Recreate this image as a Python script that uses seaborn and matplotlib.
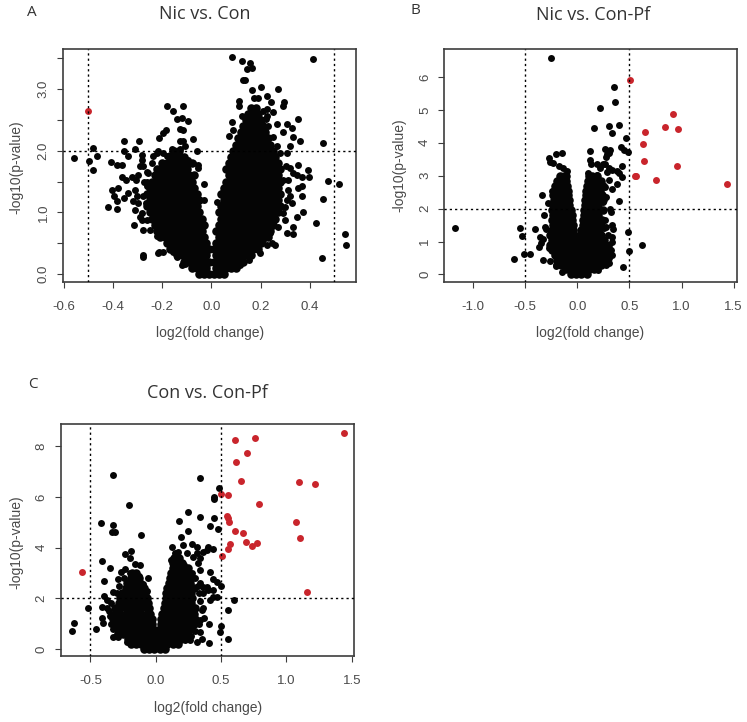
import matplotlib
matplotlib.use("Agg")
import matplotlib.pyplot as plt
import seaborn as sns
import pandas as pd

# ---------- Panel A values ----------
a_levels = [0.0,0.1,0.2,0.3,0.4,0.5,0.6,0.7,0.8,0.9,1.0,1.1,1.2,1.3,1.4,1.5,1.6,1.7,1.8,1.9,
            2.0,2.1,2.2,2.3,2.4,2.5,2.6,2.7]
a_rows_left = [
 [-.05,-.03,-.01],
 [-.08,-.06,-.04,-.02],
 [-.11,-.09,-.07,-.05,-.03,-.01],
 [-.14,-.12,-.10,-.08,-.06,-.04,-.02],
 [-.17,-.15,-.13,-.11,-.09,-.07,-.05,-.03,-.01],
 [-.18,-.16,-.14,-.12,-.10,-.08,-.06,-.04,-.02],
 [-.21,-.19,-.17,-.15,-.13,-.11,-.09,-.07,-.05,-.03],
 [-.22,-.20,-.18,-.16,-.14,-.12,-.10,-.08,-.06,-.04],
 [-.23,-.21,-.19,-.17,-.15,-.13,-.11,-.09,-.07,-.05,-.03],
 [-.24,-.22,-.20,-.18,-.16,-.14,-.12,-.10,-.08,-.06,-.04],
 [-.25,-.23,-.21,-.19,-.17,-.15,-.13,-.11,-.09,-.07,-.05],
 [-.26,-.24,-.22,-.20,-.18,-.16,-.14,-.12,-.10,-.08,-.06],
 [-.25,-.23,-.21,-.19,-.17,-.15,-.13,-.11,-.09,-.07,-.05],
 [-.26,-.24,-.22,-.20,-.18,-.16,-.14,-.12,-.10,-.08,-.06],
 [-.25,-.23,-.21,-.19,-.17,-.15,-.13,-.11,-.09,-.07],
 [-.24,-.22,-.20,-.18,-.16,-.14,-.12,-.10,-.08],
 [-.23,-.21,-.19,-.17,-.15,-.13,-.11,-.09,-.07],
 [-.22,-.20,-.18,-.16,-.14,-.12,-.10],
 [-.20,-.18,-.16,-.14,-.12,-.10,-.08],
 [-.17,-.15,-.13,-.11],
 [-.15,-.13],
 [], [], [], [], [], [], [],
]
a_rows_right = [
 [.01,.03,.05],
 [.02,.04,.06,.08,.10],
 [.01,.03,.05,.07,.09,.11,.13],
 [.02,.04,.06,.08,.10,.12,.14,.16],
 [.01,.03,.05,.07,.09,.11,.13,.15,.17,.19],
 [.02,.04,.06,.08,.10,.12,.14,.16,.18,.20],
 [.03,.05,.07,.09,.11,.13,.15,.17,.19,.21,.23],
 [.02,.04,.06,.08,.10,.12,.14,.16,.18,.20,.22,.24],
 [.03,.05,.07,.09,.11,.13,.15,.17,.19,.21,.23,.25],
 [.04,.06,.08,.10,.12,.14,.16,.18,.20,.22,.24,.26],
 [.03,.05,.07,.09,.11,.13,.15,.17,.19,.21,.23,.25,.27],
 [.04,.06,.08,.10,.12,.14,.16,.18,.20,.22,.24,.26,.28],
 [.05,.07,.09,.11,.13,.15,.17,.19,.21,.23,.25,.27],
 [.04,.06,.08,.10,.12,.14,.16,.18,.20,.22,.24,.26,.28],
 [.05,.07,.09,.11,.13,.15,.17,.19,.21,.23,.25,.27],
 [.06,.08,.10,.12,.14,.16,.18,.20,.22,.24,.26,.28],
 [.07,.09,.11,.13,.15,.17,.19,.21,.23,.25,.27],
 [.06,.08,.10,.12,.14,.16,.18,.20,.22,.24,.26,.28],
 [.07,.09,.11,.13,.15,.17,.19,.21,.23,.25,.27],
 [.08,.10,.12,.14,.16,.18,.20,.22,.24,.26],
 [.09,.11,.13,.15,.17,.19,.21,.23,.25],
 [.10,.12,.14,.16,.18,.20,.22,.24],
 [.11,.13,.15,.17,.19,.21,.23],
 [.12,.14,.16,.18,.20,.22],
 [.13,.15,.17,.19,.21],
 [.14,.16,.18,.20],
 [.15,.17,.19],
 [.16,.18],
]
a_sparse_x = [.083,.126,.157,.167,.144,.137,.13,.412,.167,.202,.271,.175,.19,.225,.295,.293,.243,.111,.111,.123,
 .252,.225,.354,.221,.085,.266,.306,.327,.293,.333,.36,.453,.07,.09,.32,.306,.354,.32,.333,.394,.398,.367,.347,
 .476,.52,.455,.367,.354,.367,.371,.425,.543,.547,.451,.347,.333,.306,.333,.3,.327,.32,.293,.31,
 -.558,-.496,-.482,-.463,-.482,-.354,-.295,-.31,-.354,-.337,-.408,-.385,-.362,-.364,-.347,-.324,-.306,-.378,-.405,
 -.396,-.419,-.385,-.382,-.354,-.337,-.31,-.313,-.276,-.276,-.276,-.317,-.31,-.29,-.29,-.297,-.283,-.283,
 -.182,-.154,-.114,-.141,-.12,-.096,-.186,-.195,-.214,-.127,-.114,-.127,-.114,-.073,-.107,-.161,-.06,-.168,-.222,
 -.195,-.127,-.056,-.053,-.028,-.028,-.243,-.263,-.274,-.127,-.093,-.076,.022,.045,
 -.263,-.276,-.267,-.28,-.263,-.25,-.222,-.211,-.195,-.215,-.154,-.141,-.121,-.107,-.256,-.236,-.215,-.182,-.276,-.263,-.304,-.297,-.283,
 .225,.245,.259,.238,.272,.252,.293,.3,.309,.313,.304,.279,.266,.252,.232,.225,.211,.184,.154,.117,.083,.154,.198,.211,.266]
a_sparse_y = [3.52,3.45,3.42,3.34,3.33,3.15,3.14,3.49,2.98,3.03,3.0,2.86,2.86,2.89,2.79,2.73,2.79,2.8,2.72,2.57,
 2.62,2.67,2.51,2.51,2.46,2.44,2.44,2.37,2.31,2.22,2.15,2.13,2.24,2.34,2.07,1.96,1.77,1.72,1.64,1.68,1.58,1.58,1.61,
 1.51,1.46,1.22,1.42,1.39,1.26,1.01,.82,.645,.466,.266,.93,.77,.66,.645,.88,1.15,1.26,1.53,1.53,
 1.875,1.84,2.04,1.92,1.68,2.15,2.15,2.03,1.99,1.92,1.81,1.77,1.77,1.58,1.53,1.58,1.53,1.4,1.355,
 1.27,1.08,1.06,1.19,1.23,1.31,1.37,.8,.715,.31,.28,1.18,1.04,.93,1.75,1.61,1.85,1.93,
 2.73,2.64,2.73,2.51,2.53,2.48,2.33,2.29,2.21,2.35,2.34,2.15,2.15,2.19,2.07,2.02,1.99,1.93,1.96,
 1.96,2.02,1.77,1.72,1.46,1.2,1.8,1.66,1.5,1.91,1.85,1.8,1.16,1.31,
 1.42,1.26,1.15,.99,.88,.72,.61,.36,.36,.34,.36,.28,.15,.17,1.64,1.91,1.99,1.91,1.75,1.5,1.26,1.15,.88,
 .47,.5,.47,.66,.77,.82,.99,1.09,1.2,1.37,1.75,1.96,2.07,2.23,2.4,2.56,2.64,2.61,.23,.15,.09,.47,.34,.55,1.04]
a_red_x = [-.5]
a_red_y = [2.64]

# ---------- Panel B values ----------
b_levels = [0.0,0.15,0.3,0.45,0.6,0.75,0.9,1.05,1.2,1.35,1.5,1.65,1.8,1.95,2.1,2.25,2.4,2.55,2.7,2.85,3.0]
b_rows_left = [
 [-.06,-.01],
 [-.11,-.06,-.01],
 [-.16,-.11,-.06,-.01],
 [-.19,-.14,-.09,-.04,-.01],
 [-.21,-.16,-.11,-.06,-.01],
 [-.24,-.19,-.14,-.09,-.04],
 [-.26,-.21,-.16,-.11,-.06,-.01],
 [-.24,-.19,-.14,-.09,-.04],
 [-.26,-.21,-.16,-.11,-.06,-.03],
 [-.24,-.19,-.14,-.09,-.04],
 [-.23,-.18,-.13,-.08,-.04],
 [-.24,-.19,-.14,-.09,-.05],
 [-.23,-.18,-.13,-.08,-.05],
 [-.24,-.19,-.14,-.09,-.06],
 [-.23,-.18,-.13,-.08],
 [-.22,-.17,-.12,-.08],
 [-.23,-.18,-.13,-.09],
 [-.22,-.17,-.12,-.09],
 [-.21,-.17,-.13,-.10],
 [-.19,-.15,-.11],
 [-.17,-.13,-.11],
]
b_rows_right = [
 [.04,.09],
 [.01,.06,.11,.16],
 [.03,.08,.13,.18,.23],
 [.01,.06,.11,.16,.21,.26],
 [.03,.08,.13,.18,.23,.28],
 [.02,.06,.11,.16,.21,.26,.30],
 [.03,.08,.13,.18,.23,.28],
 [.03,.06,.11,.16,.21,.26],
 [.03,.08,.13,.18,.23],
 [.04,.06,.11,.16,.21],
 [.05,.08,.13,.18,.23],
 [.05,.09,.14,.19,.24],
 [.06,.10,.15,.20],
 [.06,.11,.16,.21,.25],
 [.07,.10,.15,.20],
 [.07,.11,.16,.21,.25],
 [.08,.10,.15,.20,.24],
 [.08,.12,.17,.22],
 [.09,.11,.16,.21,.25],
 [.10,.13,.18,.23],
 [.11,.14,.19],
]
b_sparse_x = [-.25,.35,.36,.22,.157,.307,.4,.33,.467,.42,.45,.49,.125,.262,.31,.288,.307,.28,-.144,-.208,-.275,-.262,-.23,
 .12,.128,.186,.25,.27,.425,.218,.3,.33,.378,.4,.425,.288,-.173,-.134,-.1,.106,.3,.186,.38,.336,.265,.4,-.336,-.285,-.23,
 -.317,.28,.31,.323,-1.17,-.55,-.528,-.41,-.314,-.304,-.358,-.326,-.352,-.368,-.605,-.515,-.454,-.326,-.262,-.208,
 .486,.5,.617,.435,.336,.336,.34,.28,.256,-.27,-.246,
 .3,.32,.33,.33,.3,.29,.27,-.2,-.15,.2,.28,.25,-.24,.31,.3]
b_sparse_y = [6.57,5.69,5.25,5.05,4.44,4.5,4.53,4.31,4.16,3.86,3.78,3.73,3.76,3.8,3.78,3.66,3.7,3.58,3.69,3.66,3.53,3.42,3.39,
 3.48,3.37,3.35,3.37,3.37,3.29,3.22,3.22,3.17,3.15,3.07,2.95,3.1,3.3,3.22,3.15,3.07,2.87,3.02,2.75,2.6,2.66,2.24,2.4,2.16,2.1,
 1.8,2.36,1.98,1.9,1.42,1.42,1.18,1.39,1.45,1.37,1.14,1.09,.94,.82,.476,.61,.61,.44,.395,.3,
 1.29,.71,.88,.23,.59,1.5,1.37,1.45,1.4,.79,1.04,
 .5,.75,1.0,1.15,.35,1.2,1.65,.25,.08,.12,.3,2.2,2.55,.62,.9]
b_red_x = [.51,.92,.84,.97,.65,.627,.64,.96,.566,.55,.755,1.44]
b_red_y = [5.9,4.87,4.47,4.41,4.34,3.96,3.45,3.28,3.0,2.98,2.88,2.75]

# ---------- Panel C values ----------
c_levels = [0.0,0.2,0.4,0.6,0.8,1.0,1.2,1.4,1.6,1.8,2.0,2.2,2.4,2.6,2.8,3.0,3.2,3.4,3.6]
c_rows_left = [
 [-.09,-.05,-.01],
 [-.19,-.15,-.11,-.07,-.03],
 [-.21,-.17,-.13,-.09,-.05,-.01],
 [-.25,-.21,-.17,-.13,-.09,-.05,-.02],
 [-.29,-.25,-.21,-.17,-.13,-.09,-.05,-.02],
 [-.31,-.27,-.23,-.19,-.15,-.11,-.07,-.03],
 [-.33,-.29,-.25,-.21,-.17,-.13,-.09,-.05,-.03],
 [-.31,-.27,-.23,-.19,-.15,-.11,-.07,-.04],
 [-.31,-.27,-.23,-.19,-.15,-.11,-.07,-.05],
 [-.28,-.24,-.20,-.16,-.12,-.08,-.06],
 [-.27,-.23,-.19,-.15,-.11,-.07],
 [-.26,-.22,-.18,-.14,-.10,-.08],
 [-.23,-.19,-.15,-.11,-.09],
 [-.22,-.18,-.14,-.12],
 [-.19,-.15,-.13],
 [-.18,-.15],
 [], [], [],
]
c_rows_right = [
 [.03,.07],
 [.01,.05,.09,.13,.17],
 [.03,.07,.11,.15,.19],
 [.03,.05,.09,.13,.17,.21,.24],
 [.03,.07,.11,.15,.19,.23,.27],
 [.04,.05,.09,.13,.17,.21,.25,.29],
 [.04,.07,.11,.15,.19,.23,.27,.30],
 [.05,.09,.13,.17,.21,.25,.29],
 [.06,.10,.14,.18,.22,.26,.30],
 [.07,.11,.15,.19,.23,.27],
 [.08,.12,.16,.20,.24,.28],
 [.08,.12,.16,.20,.24,.27],
 [.09,.13,.17,.21,.25,.29],
 [.10,.14,.18,.22,.26],
 [.11,.15,.19,.23,.27],
 [.12,.16,.20,.24],
 [.13,.17,.21,.25],
 [.13,.16,.20],
 [.14,.18],
]
c_sparse_x = [-.327,.339,.485,-.207,.449,.449,.245,.339,.449,.179,-.418,-.324,-.337,-.311,-.112,.416,.477,.245,.194,.125,.212,
 .28,.314,.403,.441,.39,-.191,-.235,-.2,-.41,-.35,-.158,-.12,-.235,-.268,-.056,-.395,-.286,-.395,-.515,-.413,-.622,-.643,-.459,
 .416,.441,.467,.497,.602,.554,.503,.492,.554,.408,.357,.408,.34,.467,.416,.365,.403,.339,.339,.365,.441,.352,.37,.339,.314,.263,.224,
 .441,.39,.339,.365,.314,.288,.327,.237,.173,.148,-.324,-.286,-.4,-.413,-.375,-.375,-.324,-.222,-.171,
 -.35,-.34,-.36,-.34,-.3,-.28,-.24,-.2,-.17,-.13,-.1,-.07,-.3,-.33,
 .3,.32,.33,.34,.36,.33,.3,.27,.2,.22,.25,.28,.16,.12]
c_sparse_y = [6.87,6.74,6.34,5.68,6.01,5.93,5.42,5.2,5.16,5.07,4.97,4.88,4.63,4.63,4.5,4.86,4.75,4.67,4.41,4.04,4.1,
 4.14,4.04,4.04,3.95,3.9,3.87,3.74,3.6,3.49,3.21,3.36,3.32,3.14,3.04,2.79,2.68,2.75,2.1,1.63,1.64,1.01,.71,.8,
 3.05,2.75,2.66,2.5,1.93,1.54,.92,.66,.39,.22,.39,.97,.68,2.07,1.93,2.2,2.33,3.12,2.59,2.46,2.33,1.54,1.21,1.14,.29,.36,.36,
 2.07,2.46,3.58,3.84,3.78,3.64,3.38,3.78,3.84,3.78,.49,.49,1.01,1.21,1.6,1.93,2.26,.29,.22,
 1.3,1.0,1.5,1.8,2.2,2.5,2.8,3.0,2.95,2.9,2.55,2.3,.6,.8,
 2.8,2.5,2.2,1.9,1.6,1.0,.7,.5,3.4,3.3,3.1,3.0,3.6,3.5]
c_red_x = [1.441,.605,.758,.70,.615,.656,1.1,1.22,.503,.554,.793,.543,.551,.561,1.07,.605,.671,1.107,.691,.776,.74,.569,.554,.51,1.158,-.564]
c_red_y = [8.54,8.24,8.32,7.74,7.38,6.64,6.59,6.51,6.12,6.07,5.72,5.25,5.16,5.0,5.01,4.66,4.58,4.39,4.22,4.18,4.05,4.14,3.96,3.66,2.25,3.04]

titles = ["Nic vs. Con", "Nic vs. Con-Pf", "Con vs. Con-Pf"]
letters = ["A", "B", "C"]
a_xticks = [-0.6,-0.4,-0.2,0.0,0.2,0.4]
a_yticks = [0.0,0.5,1.0,1.5,2.0,2.5,3.0,3.5]
a_ylabels = ["0.0","","1.0","","2.0","","3.0",""]
b_xticks = [-1.0,-0.5,0.0,0.5,1.0,1.5]
b_yticks = [0,1,2,3,4,5,6]
c_xticks = [-0.5,0.0,0.5,1.0,1.5]
c_yticks = [0,2,4,6,8]

W, H = 747, 722
sns.set_theme(style="white")
plt.rcParams['font.family'] = ['Liberation Sans', 'DejaVu Sans']
fig = plt.figure(figsize=(W/100, H/100), dpi=100, facecolor="white")

GREY = "#3d3d3d"
RED = "#c9252c"
MS = 25
MS_DENSE = 38

def table(levels, rows_l, rows_r):
    xs, ys = [], []
    for lev, l, r in zip(levels, rows_l, rows_r):
        for v in list(l) + list(r):
            xs.append(v); ys.append(lev)
    return pd.DataFrame({"x": xs, "y": ys})

def panel(box, xlim, ylim, dense, sx, sy, rx, ry, xticks, yticks, ylabels):
    l, t, r, b = box
    ax = fig.add_axes([l/W, 1-b/H, (r-l)/W, (b-t)/H])
    sns.scatterplot(data=dense, x="x", y="y", ax=ax, color="#050505", s=MS_DENSE, linewidth=0, legend=False, zorder=2)
    sns.scatterplot(x=sx, y=sy, ax=ax, color="#050505", s=MS, linewidth=0, legend=False, zorder=2)
    sns.scatterplot(x=rx, y=ry, ax=ax, color=RED, s=MS, linewidth=0, legend=False, zorder=3)
    for v in (-0.5, 0.5):
        ax.axvline(v, color="black", lw=1.0, ls=(0, (1.6, 2.2)), zorder=4)
    ax.axhline(2, color="black", lw=1.0, ls=(0, (1.6, 2.2)), zorder=4)
    ax.set_xlim(xlim); ax.set_ylim(ylim)
    ax.set_xlabel(""); ax.set_ylabel("")
    ax.set_xticks(xticks); ax.set_xticklabels(["%.1f" % v for v in xticks])
    ax.set_yticks(yticks); ax.set_yticklabels(ylabels, rotation=90, va="center")
    ax.tick_params(axis="both", length=4.5, width=0.8, color=GREY, labelcolor="#4a4a4a", labelsize=9.5, bottom=True, left=True)
    ax.tick_params(axis="x", pad=9)
    ax.tick_params(axis="y", pad=5)
    for s in ax.spines.values():
        s.set_color(GREY); s.set_linewidth(1.2); s.set_visible(True)
    return ax

def px_text(x, y, s, **kw):
    fig.text(x/W, 1-y/H, s, ha="center", va="center", **kw)

panel((63,49,356,282), (-0.603,0.588), (-0.13,3.65),
      table(a_levels,a_rows_left,a_rows_right), a_sparse_x, a_sparse_y, a_red_x, a_red_y,
      a_xticks, a_yticks, a_ylabels)
panel((444.3,49,737.3,282), (-1.276,1.535), (-0.23,6.85),
      table(b_levels,b_rows_left,b_rows_right), b_sparse_x, b_sparse_y, b_red_x, b_red_y,
      b_xticks, b_yticks, [str(v) for v in b_yticks])
panel((60.7,423.7,354,656.3), (-0.727,1.517), (-0.29,8.9),
      table(c_levels,c_rows_left,c_rows_right), c_sparse_x, c_sparse_y, c_red_x, c_red_y,
      c_xticks, c_yticks, [str(v) for v in c_yticks])

title_pos = [(205,14),(593,15),(207,393)]
letter_pos = [(32,12),(415,11),(33,385)]
xlab_pos = [(210,333),(590,333),(208,708)]
ylab_pos = [(16,167),(399,165),(16,542)]
for i in range(3):
    px_text(*title_pos[i], titles[i], family="Open Sans", fontsize=13, color="#333333")
    px_text(*letter_pos[i], letters[i], family="Open Sans", fontsize=11, color="#333333")
    px_text(*xlab_pos[i], "log2(fold change)", fontsize=10, color="#4a4a4a")
    px_text(*ylab_pos[i], "-log10(p-value)", fontsize=10, color="#4a4a4a", rotation=90)

fig.savefig("out.png", dpi=100, facecolor="white")
